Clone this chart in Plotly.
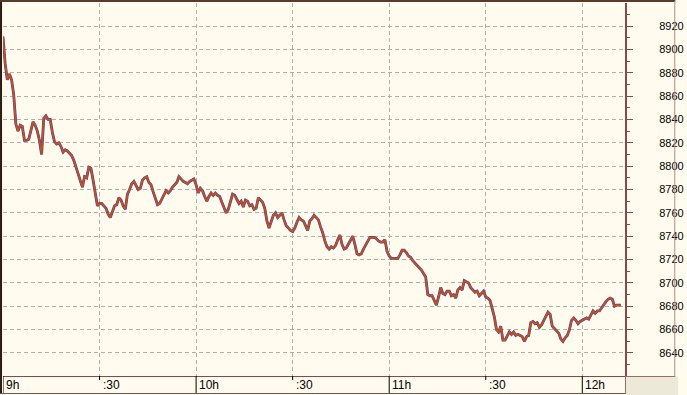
import pandas as pd
import plotly.graph_objects as go

# ---- data (one sample every 40 s from 09:00) ----
close_a = [8911, 8888, 8874, 8879, 8874, 8861, 8836, 8830, 8835, 8834,
           8822, 8822, 8823, 8831, 8838, 8835, 8830, 8822, 8810, 8841,
           8843, 8840, 8840, 8829, 8821, 8819, 8820, 8817, 8812, 8814,
           8813, 8811, 8809, 8805, 8799, 8795, 8789, 8782, 8791, 8790,
           8799, 8798, 8788, 8778, 8766, 8768, 8768, 8766, 8764, 8759,
           8756, 8761, 8766, 8767, 8773, 8771, 8766, 8763, 8776, 8780,
           8785, 8787, 8784, 8780, 8781, 8788, 8790, 8791, 8786, 8784,
           8778, 8772, 8767, 8768, 8772, 8776, 8779, 8777, 8779, 8782,
           8784, 8786, 8791, 8789, 8787, 8786, 8785, 8787, 8788, 8789,
           8784, 8777, 8781, 8779, 8774, 8770, 8774, 8777]
close_b = [8775, 8777, 8775, 8774, 8769, 8764, 8760, 8763, 8770, 8776,
           8775, 8771, 8768, 8770, 8765, 8771, 8770, 8766, 8767, 8763,
           8764, 8773, 8771, 8769, 8764, 8753, 8747, 8752, 8758, 8760,
           8756, 8758, 8760, 8754, 8749, 8747, 8745, 8744, 8747, 8752,
           8756, 8754, 8753, 8749, 8745, 8753, 8755, 8758, 8756, 8754,
           8748, 8743, 8736, 8731, 8729, 8731, 8730, 8732, 8737, 8741,
           8733, 8729, 8730, 8733, 8736, 8740, 8733, 8725, 8724, 8725,
           8729, 8732, 8736, 8739, 8739, 8739, 8738, 8736, 8735, 8735,
           8737, 8727, 8723, 8721, 8721, 8721, 8721, 8724, 8728, 8728,
           8726, 8723, 8722, 8719, 8717, 8715, 8713, 8711, 8708, 8705,
           8690]
close_c = [8689, 8689, 8685, 8681, 8688, 8696, 8691, 8690, 8693, 8693,
           8689, 8690, 8687, 8694, 8696, 8694, 8702, 8701, 8700, 8696,
           8694, 8692, 8693, 8689, 8691, 8693, 8688, 8687, 8685, 8678,
           8671, 8660, 8658, 8663, 8651, 8651, 8654, 8658, 8656, 8658,
           8655, 8656, 8655, 8654, 8650, 8654, 8655, 8666, 8667, 8665,
           8666, 8662, 8664, 8668, 8671, 8675, 8673, 8663, 8661, 8659,
           8657, 8652, 8650, 8653, 8655, 8660, 8668, 8670, 8668, 8665,
           8667, 8668, 8669, 8670, 8669, 8673, 8676, 8674, 8676, 8676,
           8679, 8681, 8684, 8686, 8687, 8686, 8680, 8681, 8681, 8681]
close = close_a + close_b + close_c

start_time = "2024-01-02 09:00:00"
sample_step = "40s"
x_range = ["2024-01-02 09:00:00", "2024-01-02 12:13:16"]
y_range = [8620.3, 8939.7]

x_tick_times = ["2024-01-02 09:00:00", "2024-01-02 09:30:00", "2024-01-02 10:00:00",
                "2024-01-02 10:30:00", "2024-01-02 11:00:00", "2024-01-02 11:30:00",
                "2024-01-02 12:00:00"]
x_tick_labels = ["9h", ":30", "10h", ":30", "11h", ":30", "12h"]
y_tick_vals = list(range(8640, 8921, 20))

times = pd.date_range(start_time, periods=len(close), freq=sample_step)

BG = "#FFFBEE"
RED = "#C8501E"
BLUE = "#3C4290"
AXIS = "#8A4848"
GRID = "#B4B0A8"

fig = go.Figure()
fig.add_trace(go.Scatter(x=times, y=close, mode="lines", line=dict(color=BLUE, width=2.8),
                         hoverinfo="skip", showlegend=False))
fig.add_trace(go.Scatter(x=times, y=close, mode="lines", line=dict(color=RED, width=1.8),
                         showlegend=False))

W, H = 687, 395
L, R, T, B = 3, 53, 3, 19
pw, ph = W - L - R, H - T - B


def px(xp):
    return (xp - L) / pw


def py(yp):
    return (H - B - yp) / ph


fig.update_layout(
    width=W, height=H,
    margin=dict(l=L, r=R, t=T, b=B, pad=0),
    paper_bgcolor=BG, plot_bgcolor=BG,
    font=dict(family="Liberation Sans, Arial, sans-serif", size=11, color="#000000"),
    showlegend=False,
    xaxis=dict(
        type="date", range=x_range, showticklabels=False,
        tickvals=x_tick_times,
        ticks="", showgrid=True, gridcolor=GRID, griddash="4px,3px", gridwidth=1,
        showline=True, linecolor=AXIS, linewidth=1, zeroline=False,
    ),
    yaxis=dict(
        side="right", range=y_range, tickvals=y_tick_vals,
        ticks="outside", ticklen=6, tickcolor=AXIS, tickwidth=1,
        ticklabelstandoff=24,
        showgrid=True, gridcolor=GRID, griddash="4px,3px", gridwidth=1,
        showline=True, linecolor=AXIS, linewidth=2, zeroline=False,
        minor=dict(dtick=10, tick0=8640, ticks="outside", ticklen=3, tickcolor=AXIS, showgrid=False),
        tickfont=dict(size=11, color="#000000"),
    ),
)

shapes = []
# bottom-right grey corner
shapes.append(dict(type="rect", xref="paper", yref="paper", x0=px(635), x1=px(688), y0=py(376.5), y1=py(396),
                   fillcolor="#ECE9D8", line=dict(width=0), layer="above"))
# x tick marks in the bottom band
for i, t in enumerate(x_tick_times):
    tall = x_tick_labels[i] != ":30"
    shapes.append(dict(type="line", xref="x", yref="paper", x0=t, x1=t, y0=py(376),
                       y1=py(393 if tall else 380), line=dict(color="#000000", width=1)))
# frame lines
shapes.append(dict(type="line", xref="paper", yref="paper", x0=px(1), x1=px(1), y0=py(0), y1=py(394),
                   line=dict(color="#2A1A12", width=2)))
shapes.append(dict(type="line", xref="paper", yref="paper", x0=px(0), x1=px(685), y0=py(1), y1=py(1),
                   line=dict(color="#5A3A2A", width=2)))
shapes.append(dict(type="line", xref="paper", yref="paper", x0=px(0), x1=px(635), y0=py(393.5), y1=py(393.5),
                   line=dict(color="#7A5050", width=1)))
shapes.append(dict(type="line", xref="paper", yref="paper", x0=px(634.5), x1=px(634.5), y0=py(376), y1=py(394),
                   line=dict(color="#9A6A6A", width=1)))
shapes.append(dict(type="line", xref="paper", yref="paper", x0=px(634), x1=px(685), y0=py(376.5), y1=py(376.5),
                   line=dict(color="#9A6A6A", width=1)))
shapes.append(dict(type="line", xref="paper", yref="paper", x0=px(684.5), x1=px(684.5), y0=py(1), y1=py(377),
                   line=dict(color="#B09080", width=1)))
fig.update_layout(shapes=shapes)

for t, lab in zip(x_tick_times, x_tick_labels):
    fig.add_annotation(x=t, xref="x", y=py(385), yref="paper", text=lab, showarrow=False,
                       xanchor="left", yanchor="middle", xshift=1,
                       font=dict(size=12, color="#000000"))

fig.write_html("out.html")
